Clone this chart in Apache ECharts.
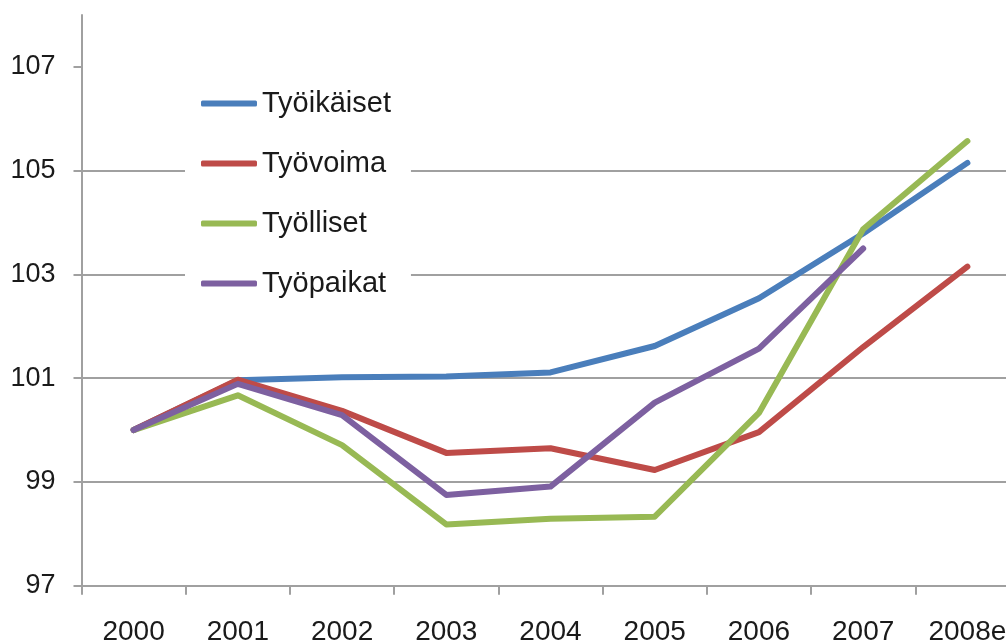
<!DOCTYPE html>
<html>
<head>
<meta charset="utf-8">
<script src="https://cdn.jsdelivr.net/npm/echarts@6/dist/echarts.min.js"></script>
<style>
    html, body { margin: 0; padding: 0; background: #fff; }
    #main { width: 1006px; height: 641px; }
</style>
</head>
<body>
<div id="main"></div>
<script>
    // vuodet
    var years = ['2000', '2001', '2002', '2003', '2004', '2005', '2006', '2007', '2008e'];
    var yTicks = [97, 99, 101, 103, 105, 107];

    var tyoikaiset = [100, 100.96, 101.02, 101.03, 101.11, 101.62, 102.54, 103.79, 105.15];
    var tyovoima = [100, 100.97, 100.37, 99.56, 99.65, 99.23, 99.96, 101.6, 103.15];
    var tyolliset = [100, 100.67, 99.71, 98.18, 98.29, 98.33, 100.33, 103.87, 105.57];
    var tyopaikat = [100, 100.89, 100.29, 98.75, 98.91, 100.53, 101.57, 103.5, null];

    var font = 'Liberation Sans, Arial, sans-serif';

    function lineSeries(name, data, color) {
        return {
            name: name,
            type: 'line',
            data: data,
            symbol: 'none',
            color: color,
            lineStyle: { width: 6, color: color, cap: 'round', join: 'round' }
        };
    }

    var option = {
        animation: false,
        grid: { left: 81.5, right: -13.5, top: 15, bottom: 55.3, outerBoundsMode: 'none', containLabel: false },
        legend: {
            orient: 'vertical',
            left: 185,
            top: 79,
            padding: [10, 20, 10, 16],
            backgroundColor: '#fff',
            icon: 'roundRect',
            itemWidth: 56,
            itemHeight: 6,
            itemGap: 31,
            textStyle: { fontFamily: font, fontSize: 29, color: '#1a1a1a', lineHeight: 28 },
            data: ['Työikäiset', 'Työvoima', 'Työlliset', 'Työpaikat']
        },
        xAxis: {
            type: 'category',
            data: years,
            boundaryGap: true,
            axisLine: { lineStyle: { color: '#a0a0a0', width: 2 } },
            axisTick: { show: true, length: 9, lineStyle: { color: '#a0a0a0', width: 2 } },
            axisLabel: { fontFamily: font, fontSize: 28, color: '#1a1a1a', margin: 33, interval: 0 },
            splitLine: { show: false }
        },
        yAxis: {
            type: 'value',
            min: 97,
            max: 108,
            interval: 2,
            axisLine: { show: true, lineStyle: { color: '#a0a0a0', width: 2 } },
            axisTick: { show: true, length: 8, customValues: yTicks, lineStyle: { color: '#a0a0a0', width: 2 } },
            axisLabel: { fontFamily: font, fontSize: 27, color: '#1a1a1a', margin: 26, customValues: yTicks },
            splitLine: { show: true, showMaxLine: false, lineStyle: { color: '#a0a0a0', width: 2 } }
        },
        series: [
            lineSeries('Työikäiset', tyoikaiset, '#4a7ebb'),
            lineSeries('Työvoima', tyovoima, '#be4b48'),
            lineSeries('Työlliset', tyolliset, '#98b954'),
            lineSeries('Työpaikat', tyopaikat, '#7d60a0')
        ]
    };

    var myChart = echarts.init(document.getElementById('main'));
    myChart.setOption(option);
</script>
</body>
</html>
